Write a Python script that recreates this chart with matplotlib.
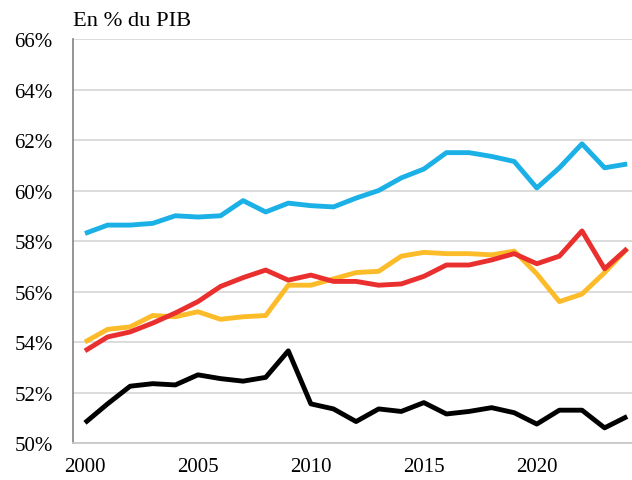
import matplotlib
matplotlib.use("Agg")
import matplotlib.pyplot as plt
from matplotlib.ticker import FuncFormatter

# Years and series (en % du PIB)
years = list(range(2000, 2025))
blue = [58.3, 58.63, 58.63, 58.7, 59.0, 58.95, 59.0, 59.6, 59.15, 59.5,
        59.4, 59.35, 59.7, 60.0, 60.5, 60.85, 61.5, 61.5, 61.35, 61.15,
        60.1, 60.9, 61.85, 60.9, 61.05]
red = [53.65, 54.2, 54.4, 54.75, 55.15, 55.6, 56.2, 56.55, 56.85, 56.45,
       56.65, 56.4, 56.4, 56.25, 56.3, 56.6, 57.05, 57.05, 57.25, 57.5,
       57.1, 57.4, 58.4, 56.9, 57.7]
yellow = [54.0, 54.5, 54.6, 55.05, 55.0, 55.2, 54.9, 55.0, 55.05, 56.25,
          56.25, 56.5, 56.75, 56.8, 57.4, 57.55, 57.5, 57.5, 57.45, 57.6,
          56.7, 55.6, 55.9, 56.75, 57.7]
black = [50.8, 51.55, 52.25, 52.35, 52.3, 52.7, 52.55, 52.45, 52.6, 53.65,
         51.55, 51.35, 50.85, 51.35, 51.25, 51.6, 51.15, 51.25, 51.4, 51.2,
         50.75, 51.3, 51.3, 50.6, 51.05]

yticks = list(range(50, 67, 2))
xticks = [2000, 2005, 2010, 2015, 2020]

plt.rcParams['font.family'] = ['Liberation Serif', 'DejaVu Serif']

fig = plt.figure(figsize=(6.32, 4.81), dpi=100)
ax = fig.add_axes([0.1155, 0.0769, 0.884, 0.8399])

lw = 3.5
ax.plot(years, blue, color='#1BB0E6', lw=lw, solid_capstyle='butt', zorder=3)
ax.plot(years, red, color='#EA2F2F', lw=lw, solid_capstyle='butt', zorder=4)
ax.plot(years, yellow, color='#FCBC2A', lw=lw, solid_capstyle='butt', zorder=3)
ax.plot(years, black, color='#000000', lw=lw, solid_capstyle='butt', zorder=3)

ax.set_ylim(50, 66)
ax.set_xlim(1999.47, 2024.2)
ax.set_yticks(yticks)
ax.yaxis.set_major_formatter(FuncFormatter(lambda v, p: f"{int(v)}%"))
ax.set_xticks(xticks)
ax.grid(axis='y', color='#d9d9d9', lw=1.3)
ax.set_axisbelow(True)
for s in ['top', 'right']:
    ax.spines[s].set_visible(False)
ax.spines['left'].set_color('#8c8c8c')
ax.spines['bottom'].set_color('#c8c8c8')
ax.spines['left'].set_linewidth(1.3)
ax.spines['bottom'].set_linewidth(1.3)
ax.tick_params(length=0, labelsize=15)
ax.tick_params(axis='y', pad=14.5)
ax.tick_params(axis='x', pad=10)

fig.text(0.115, 0.956, "En % du PIB", fontsize=16.2, ha='left', va='center')

fig.savefig("out.png", dpi=100)
